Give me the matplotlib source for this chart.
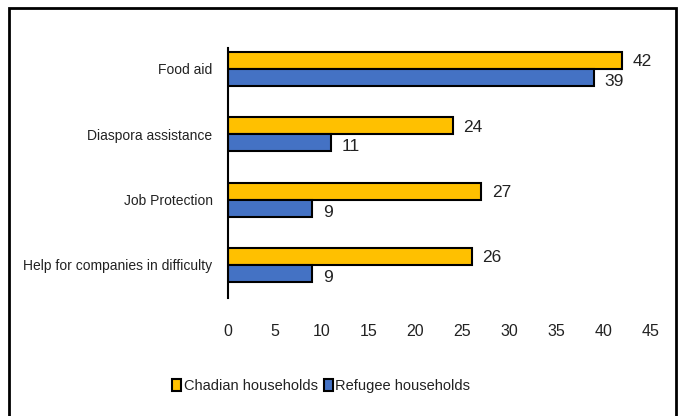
import matplotlib.pyplot as plt
from matplotlib.patches import Rectangle
import numpy as np

plt.rcParams['font.family'] = ['Liberation Sans', 'DejaVu Sans']

categories = ['Food aid', 'Diaspora assistance', 'Job Protection', 'Help for companies in difficulty']
chadian = [42, 24, 27, 26]
refugee = [39, 11, 9, 9]
xticks = [0, 5, 10, 15, 20, 25, 30, 35, 40, 45]

fig = plt.figure(figsize=(6.78, 4.16), dpi=100)
ax = fig.add_axes([0.336, 0.2837, 0.623, 0.601])

y = np.arange(len(categories))[::-1].astype(float)
h = 0.26
b1 = ax.barh(y + h / 2, chadian, height=h, color='#FFC000', edgecolor='black', linewidth=1.5,
             label='Chadian households')
b2 = ax.barh(y - h / 2, refugee, height=h, color='#4472C4', edgecolor='black', linewidth=1.5,
             label='Refugee households')

# valeurs à droite des barres
for bars, vals, dy in [(b1, chadian, -1), (b2, refugee, -3)]:
    for bar, v in zip(bars, vals):
        ax.annotate(str(v), (v, bar.get_y() + bar.get_height() / 2), xytext=(7.5, dy),
                    textcoords='offset points', va='center', ha='left', fontsize=12.5,
                    color='#222222')

ax.set_xlim(0, 45)
ax.set_ylim(-0.505, 3.32)
ax.set_xticks(xticks)
ax.set_yticks(y)
ax.set_yticklabels(categories, fontsize=10, color='#222222')
ax.tick_params(axis='x', length=0, pad=19, labelsize=11.5, labelcolor='#222222')
ax.tick_params(axis='y', length=0, pad=11)
for s in ['top', 'right', 'bottom']:
    ax.spines[s].set_visible(False)
ax.spines['left'].set_linewidth(1.5)

fig.legend(handles=[b1, b2], loc='center', bbox_to_anchor=(0.474, 0.072), ncol=2, frameon=False,
           fontsize=10.5, handlelength=0.6, handleheight=0.8, handletextpad=0.2, columnspacing=0.4,
           labelcolor='#222222')

fig.patches.append(Rectangle((0.0135, -0.01), 0.984, 0.99, transform=fig.transFigure,
                             fill=False, edgecolor='black', linewidth=2))

plt.savefig('out.png')
